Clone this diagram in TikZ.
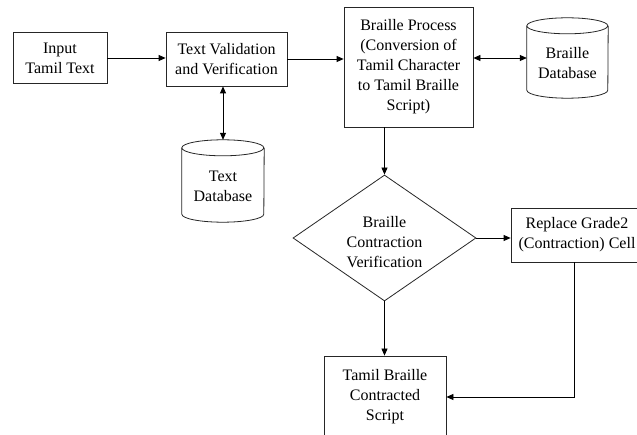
\documentclass[tikz,border=0pt]{standalone}
\usepackage{fontspec}
\setmainfont{Liberation Serif}
\usetikzlibrary{arrows.meta,shapes.geometric,calc}
\tikzset{
  box/.style={draw=black!85, line width=0.8pt, rectangle, align=center, inner sep=0pt},
  dbnode/.style={rectangle, inner sep=0pt},
  dbtext/.style={align=center, inner sep=0pt, yshift=-5pt},
  diatext/.style={align=center, inner sep=0pt, yshift=-4pt},
  decision/.style={draw=black!85, line width=0.8pt, diamond, inner sep=0pt},
  tip/.tip={Triangle[length=7pt,width=6pt]},
  conn/.style={draw=black, line width=0.8pt, -tip},
  biconn/.style={draw=black, line width=0.8pt, tip-tip},
  cylline/.style={draw=black!85, line width=0.8pt}
}
\newcommand{\drawcyl}[3]{% name, x radius, y radius
  \draw[cylline] ([yshift=-#3]#1.north west) arc[start angle=180,end angle=360,x radius=#2,y radius=#3]
     arc[start angle=0,end angle=180,x radius=#2,y radius=#3];
  \draw[cylline] ([yshift=-#3]#1.north west) -- ([yshift=#3]#1.south west)
     arc[start angle=180,end angle=360,x radius=#2,y radius=#3] -- ([yshift=-#3]#1.north east);
}
\begin{document}
\begin{tikzpicture}[x=1pt,y=-1pt,font=\fontsize{16pt}{20pt}\selectfont]
\useasboundingbox (0,0) rectangle (637,435);
\clip (0,0) rectangle (637,435);
\fill[white] (0,0) rectangle (637,435);

\node[box, minimum width=94pt, minimum height=51pt] (input) at (60,58) {Input\\Tamil Text};
\node[box, minimum width=121pt, minimum height=54pt] (tv) at (226.5,59) {Text Validation\\and Verification};
\node[box, minimum width=129pt, minimum height=120pt] (bp) at (408.5,67) {Braille Process\\(Conversion of\\Tamil Character\\to Tamil Braille\\Script)};
\node[dbnode, minimum width=81pt, minimum height=80pt,
      label={[dbtext]center:Braille\\Database}] (bdb) at (567.5,58) {};
\drawcyl{bdb}{40.5pt}{8pt}
\node[dbnode, minimum width=82pt, minimum height=82pt,
      label={[dbtext]center:Text\\Database}] (tdb) at (223,181) {};
\drawcyl{tdb}{41pt}{8pt}
\node[decision, minimum width=183pt, minimum height=126pt, aspect=1.45,
      label={[diatext]center:Braille\\Contraction\\Verification}] (dia) at (384.5,238) {};
\node[box, minimum width=132pt, minimum height=54pt] (rep) at (577,235) {Replace Grade2\\(Contraction) Cell};
\node[box, minimum width=122pt, minimum height=82pt] (tbc) at (385,397) {Tamil Braille\\Contracted\\Script};

\draw[conn] (input.east) -- (input.east -| tv.west);
\draw[conn] (tv.east) -- (tv.east -| bp.west);
\draw[biconn] (tdb.north |- tv.south) -- (tdb.north);
\draw[biconn] (bp.east |- bdb.west) -- (bdb.west);
\draw[conn] (bp.south -| dia.north) -- (dia.north);
\draw[conn] (dia.east) -- (dia.east -| rep.west);
\draw[conn] (dia.south) -- (tbc.north -| dia.south);
\draw[conn] ([xshift=-3pt]rep.south) |- (tbc.east);
\end{tikzpicture}
\end{document}
